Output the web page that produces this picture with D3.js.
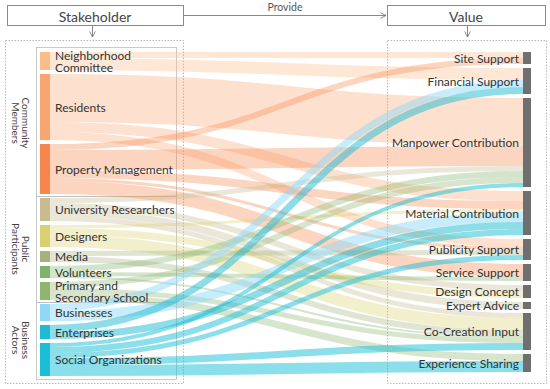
<!DOCTYPE html>
<html lang="en">
<head>
<meta charset="UTF-8">
<title>Stakeholder - Value Sankey</title>
<script src="https://d3js.org/d3.v7.min.js"></script>
<style>
  body { margin: 0; background: #fff; }
  svg { font-family: Lato, "Open Sans", sans-serif; }
  .node-label { fill: #333; font-size: 12px; }
  .group-label { fill: #444; font-size: 10px; }
  .head { fill: #444; font-size: 14px; }
</style>
</head>
<body>
<svg width="550" height="389"></svg>
<script>
// left column
const stakeholders = [
  "Neighborhood\nCommittee", "Residents", "Property Management",
  "University Researchers", "Designers", "Media", "Volunteers",
  "Primary and\nSecondary School", "Businesses", "Enterprises", "Social Organizations"
];
const stakeholderColors = [
  "#fbbd88", "#f9a56f", "#f7864c",
  "#c7bb8f", "#d9d071", "#a7b17d", "#7db46b", "#8fb56f",
  "#8fd9f7", "#1fbad4", "#18bfd6"
];
// groups: label lines, first and last stakeholder index
const groups = [
  [["Community", "Members"], 0, 2],
  [["Public", "Participants"], 3, 7],
  [["Business", "Actors"], 8, 10]
];
// right column
const valueTypes = [
  "Site Support", "Financial Support", "Manpower Contribution", "Material Contribution",
  "Publicity Support", "Service Support", "Design Concept", "Expert Advice",
  "Co-Creation Input", "Experience Sharing"
];
// [stakeholder index, value index, weight]
const flows = [
  [0, 0, 6], [0, 1, 12],
  [1, 2, 48], [1, 3, 10], [1, 4, 8],
  [2, 0, 6], [2, 2, 20], [2, 3, 8], [2, 4, 3], [2, 5, 13],
  [3, 2, 5], [3, 6, 6], [3, 7, 7], [3, 8, 5],
  [4, 3, 3], [4, 6, 7], [4, 8, 12],
  [5, 4, 5], [5, 8, 6],
  [6, 2, 6], [6, 5, 4], [6, 8, 2],
  [7, 2, 6], [7, 8, 5], [7, 9, 7],
  [8, 1, 7], [8, 3, 10],
  [9, 1, 7], [9, 3, 7],
  [10, 2, 4], [10, 3, 6], [10, 4, 5], [10, 8, 7], [10, 9, 11]
];

const svg = d3.select("svg");

// ---- layout (hand rolled sankey) ----
const yTop = 52, yBottom = 376, gap = 4;
const total = d3.sum(flows, d => d[2]);
const h = d3.scaleLinear().domain([0, total])
  .range([0, yBottom - yTop - gap * (stakeholders.length - 1)]);
const colX = d3.scalePoint().domain(["left", "right"]).range([40, 523]);
const leftW = 10, rightW = 8;

function stack(names, idx) {
  let y0 = yTop;
  return names.map((name, i) => {
    const v = d3.sum(flows.filter(f => f[idx] === i), f => f[2]);
    const n = { name, i, value: v, y0, y1: y0 + h(v) };
    y0 = n.y1 + gap;
    return n;
  });
}
const leftNodes = stack(stakeholders, 0);
const rightNodes = stack(valueTypes, 1);

const links = flows.map(f => ({ s: f[0], t: f[1], value: f[2], w: h(f[2]) }));
// ordering at source: by target; at target: by source
leftNodes.forEach(n => {
  let y = n.y0;
  links.filter(l => l.s === n.i).sort((a, b) => a.t - b.t)
    .forEach(l => { l.sy = y + l.w / 2; y += l.w; });
});
rightNodes.forEach(n => {
  let y = n.y0;
  links.filter(l => l.t === n.i).sort((a, b) => a.s - b.s)
    .forEach(l => { l.ty = y + l.w / 2; y += l.w; });
});

// ---- frames ----
const frame = svg.append("g");
frame.append("rect").attr("x", 7.5).attr("y", 5.5).attr("width", 176).attr("height", 20)
  .attr("fill", "none").attr("stroke", "#8a8a8a");
frame.append("rect").attr("x", 387.5).attr("y", 5.5).attr("width", 158).attr("height", 20)
  .attr("fill", "none").attr("stroke", "#8a8a8a");
frame.append("text").attr("class", "head").attr("x", 95).attr("y", 16)
  .attr("text-anchor", "middle").attr("dominant-baseline", "central").text("Stakeholder");
frame.append("text").attr("class", "head").attr("x", 466).attr("y", 16)
  .attr("text-anchor", "middle").attr("dominant-baseline", "central").text("Value");

svg.append("defs").append("marker").attr("id", "arr")
  .attr("viewBox", "0 0 10 10").attr("refX", 9).attr("refY", 5)
  .attr("markerWidth", 7).attr("markerHeight", 7).attr("orient", "auto")
  .attr("markerUnits", "userSpaceOnUse")
  .append("path").attr("d", "M1,1 L9,5 L1,9").attr("fill", "none")
  .attr("stroke", "#777").attr("stroke-width", 1.2);

frame.append("line").attr("x1", 184).attr("y1", 15.5).attr("x2", 386).attr("y2", 15.5)
  .attr("stroke", "#888").attr("marker-end", "url(#arr)");
frame.append("text").attr("x", 285).attr("y", 11).attr("text-anchor", "middle")
  .attr("fill", "#555").attr("font-size", 10.5).text("Provide");
[92, 467].forEach(x => {
  frame.append("line").attr("x1", x + 0.5).attr("y1", 26).attr("x2", x + 0.5).attr("y2", 37)
    .attr("stroke", "#888").attr("marker-end", "url(#arr)");
});

// dotted outer boxes
[[5.5, 40.5, 178, 343], [387.5, 40.5, 159, 343]].forEach(b => {
  frame.append("rect").attr("x", b[0]).attr("y", b[1]).attr("width", b[2]).attr("height", b[3])
    .attr("fill", "none").attr("stroke", "#b8b8b8").attr("stroke-dasharray", "1.5,1.5");
});

// group boxes and rotated labels
groups.forEach((g, gi) => {
  const a = leftNodes[g[1]], b = leftNodes[g[2]];
  const y0 = gi === 0 ? a.y0 - 5 : a.y0 - gap / 2;
  const y1 = gi === groups.length - 1 ? b.y1 + 3 : b.y1 + gap / 2;
  frame.append("rect").attr("x", 36.5).attr("y", Math.round(y0) + 0.5)
    .attr("width", 140).attr("height", Math.round(y1 - y0))
    .attr("fill", "none").attr("stroke", "#bdbdbd").attr("stroke-width", 0.8);
  const cy = (a.y0 + b.y1) / 2;
  const t = frame.append("text").attr("class", "group-label")
    .attr("transform", `translate(21,${cy}) rotate(90)`)
    .attr("text-anchor", "middle");
  g[0].forEach((line, k) => {
    t.append("tspan").attr("x", 0).attr("y", (k - 0.5) * 10.5)
      .attr("dominant-baseline", "central").text(line);
  });
});

// ---- links ----
const linkGen = d3.linkHorizontal();
svg.append("g").selectAll("path").data(links).join("path")
  .attr("d", l => linkGen({ source: [colX("left") + leftW, l.sy], target: [colX("right"), l.ty] }))
  .attr("fill", "none")
  .attr("stroke", l => stakeholderColors[l.s])
  .attr("stroke-opacity", l => l.s >= 8 ? 0.5 : 0.35)
  .attr("stroke-width", l => Math.max(1, l.w));

// ---- nodes ----
svg.append("g").selectAll("rect").data(leftNodes).join("rect")
  .attr("x", colX("left")).attr("y", d => d.y0)
  .attr("width", leftW).attr("height", d => d.y1 - d.y0)
  .attr("fill", d => stakeholderColors[d.i]);
svg.append("g").selectAll("rect").data(rightNodes).join("rect")
  .attr("x", colX("right")).attr("y", d => d.y0)
  .attr("width", rightW).attr("height", d => d.y1 - d.y0)
  .attr("fill", "#6f6f6f");

// ---- labels ----
// one <text> per line so wrapped names stay separate elements
const labelLines = leftNodes.flatMap(d => {
  const lines = d.name.split("\n");
  const cy = (d.y0 + d.y1) / 2 + (lines.length > 1 ? 0.6 : 0);
  return lines.map((line, k) => ({
    text: line, multi: lines.length > 1,
    y: cy + (k - (lines.length - 1) / 2) * 12
  }));
});
svg.append("g").selectAll("text").data(labelLines).join("text")
  .attr("class", "node-label")
  .attr("x", colX("left") + leftW + 5)
  .attr("y", d => d.y)
  .attr("font-size", d => d.multi ? 10 : 12)
  .attr("dominant-baseline", "central")
  .text(d => d.text);
svg.append("g").selectAll("text").data(rightNodes).join("text")
  .attr("class", "node-label")
  .attr("x", colX("right") - 4)
  .attr("y", d => (d.y0 + d.y1) / 2)
  .attr("text-anchor", "end")
  .attr("dominant-baseline", "central")
  .text(d => d.name);
</script>
</body>
</html>
